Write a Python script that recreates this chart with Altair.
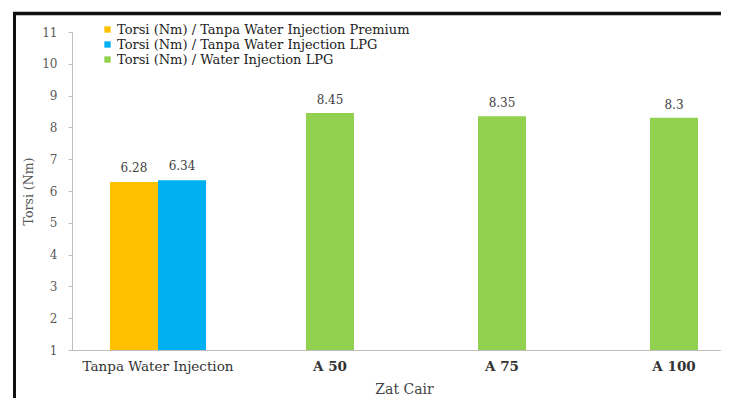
import altair as alt
import pandas as pd

categories = ["Tanpa Water Injection", "A 50", "A 75", "A 100"]
series = [
    "Torsi (Nm) / Tanpa Water Injection Premium",
    "Torsi (Nm) / Tanpa Water Injection LPG",
    "Torsi (Nm) / Water Injection LPG",
]
colors = ["#FFC000", "#00B0F0", "#92D050"]

base_category = ["Tanpa Water Injection", "Tanpa Water Injection"]
base_series = [series[0], series[1]]
base_values = [6.28, 6.34]
base_labels = ["6.28", "6.34"]

wi_categories = ["A 50", "A 75", "A 100"]
wi_series = [series[2], series[2], series[2]]
wi_values = [8.45, 8.35, 8.3]
wi_labels = ["8.45", "8.35", "8.3"]

y_ticks = [1, 2, 3, 4, 5, 6, 7, 8, 9, 10, 11]

df1 = pd.DataFrame({"cat": base_category, "series": base_series,
                    "value": base_values, "label": base_labels})
df2 = pd.DataFrame({"cat": wi_categories, "series": wi_series,
                    "value": wi_values, "label": wi_labels})

FONT = "DejaVu Serif"

x_enc = alt.X(
    "cat:N", sort=categories,
    scale=alt.Scale(domain=categories, paddingInner=0, paddingOuter=0),
    axis=alt.Axis(title="Zat Cair", labelAngle=0, ticks=False, domainColor="#BFBFBF",
                  labelFont=FONT, labelFontSize=13.5, labelColor="#333333",
                  labelFontWeight={"expr": "datum.value == 'Tanpa Water Injection' ? 'normal' : 'bold'"},
                  labelPadding=9, titleFont=FONT, titleFontSize=14,
                  titleFontWeight="normal", titleColor="#444444",
                  titleX=332, titleY=39, titleBaseline="middle"),
)
y_enc = alt.Y(
    "value:Q",
    scale=alt.Scale(domain=[1, 11], zero=False, nice=False),
    axis=alt.Axis(values=y_ticks, title="Torsi (Nm)", grid=False, domainColor="#BFBFBF",
                  tickColor="#BFBFBF", tickSize=4, labelFont=FONT, labelFontSize=12,
                  labelColor="#595959", labelPadding=11, titleFont=FONT,
                  titleFontSize=12.5, titleFontWeight="normal", titleColor="#595959",
                  titlePadding=6),
)
color_enc = alt.Color(
    "series:N",
    scale=alt.Scale(domain=series, range=colors),
    legend=alt.Legend(title=None, orient="none", legendX=29, legendY=-9,
                      symbolType="square", symbolSize=40, symbolStrokeWidth=0,
                      labelFont=FONT, labelFontSize=13, labelColor="#222222",
                      labelOffset=3, rowPadding=1, padding=0, labelLimit=500),
)

offset_enc = alt.XOffset("series:N", sort=series,
                         scale=alt.Scale(paddingInner=0, paddingOuter=0.79))

bars1 = alt.Chart(df1).mark_bar().encode(
    x=x_enc, xOffset=offset_enc,
    y=y_enc, y2=alt.datum(1), color=color_enc,
)
text1 = alt.Chart(df1).mark_text(baseline="bottom", dy=-7, font=FONT, fontSize=12,
                                 color="#404040").encode(
    x=x_enc, xOffset=offset_enc, y=y_enc, text="label:N",
)
bars2 = alt.Chart(df2).mark_bar(width=48).encode(
    x=x_enc, y=y_enc, y2=alt.datum(1), color=color_enc,
)
text2 = alt.Chart(df2).mark_text(baseline="bottom", dy=-6, font=FONT, fontSize=12,
                                 color="#404040").encode(
    x=x_enc, y=y_enc, text="label:N",
)

frame_df = pd.DataFrame({"k": [0]})
frame_top = alt.Chart(frame_df).mark_rule(color="#111111", strokeWidth=3.5).encode(
    x=alt.value(-59), x2=alt.value(649), y=alt.value(-18.5))
frame_left = alt.Chart(frame_df).mark_rule(color="#111111", strokeWidth=3).encode(
    x=alt.value(-57.5), y=alt.value(-20), y2=alt.value(400))

chart = alt.layer(bars1, text1, bars2, text2, frame_top, frame_left).properties(
    width=688, height=318,
    autosize=alt.AutoSizeParams(type="none"),
    padding={"left": 64, "top": 24, "right": -39, "bottom": 48},
    background="white",
).configure_view(stroke=None)

chart.save("out.html", embed_options={"renderer": "svg", "actions": False})
